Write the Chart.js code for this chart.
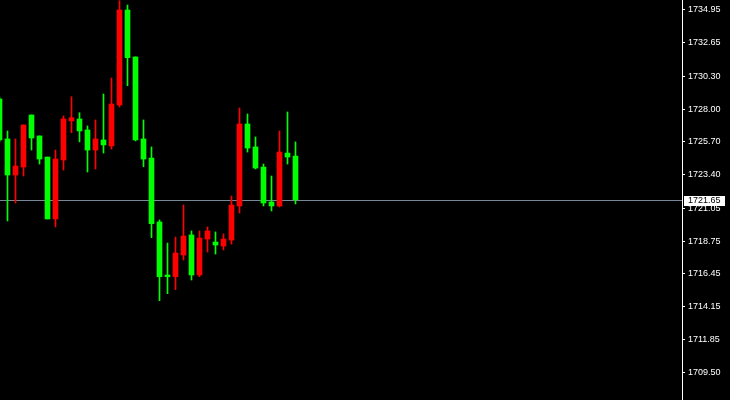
<!DOCTYPE html>
<html>
<head>
<meta charset="utf-8">
<script src="https://cdn.jsdelivr.net/npm/chart.js@4.4.1/dist/chart.umd.min.js"></script>
<style>
  html, body { margin: 0; padding: 0; background: #000; }
  #wrap { width: 730px; height: 400px; }
</style>
</head>
<body>
<div id="wrap"><canvas id="myChart" width="730" height="400"></canvas></div>
<script>
// candles, oldest first (the first one is cut by the left edge)
const opens  = [1728.71, 1725.91, 1723.38, 1723.94, 1727.59, 1726.12, 1724.64, 1720.30, 1724.43, 1727.17,
                1727.31, 1726.54, 1725.13, 1725.84, 1725.42, 1728.29, 1734.95, 1731.66, 1725.91, 1724.57,
                1720.09, 1716.37, 1716.25, 1717.77, 1719.18, 1716.37, 1718.89, 1718.68, 1718.40, 1718.82,
                1721.21, 1726.96, 1725.35, 1723.94, 1721.49, 1721.21, 1724.92, 1724.71];
const highs  = [1728.85, 1726.47, 1725.91, 1726.89, 1727.59, 1726.12, 1724.64, 1725.13, 1727.52, 1728.87,
                1727.75, 1726.82, 1727.24, 1729.06, 1730.18, 1735.60, 1735.30, 1731.66, 1727.24, 1725.35,
                1720.23, 1718.61, 1719.03, 1721.28, 1719.46, 1719.46, 1719.74, 1719.39, 1719.25, 1721.91,
                1728.08, 1727.66, 1726.05, 1724.15, 1723.31, 1726.47, 1727.80, 1725.70];
const lows   = [1725.70, 1720.16, 1721.42, 1723.31, 1725.13, 1724.15, 1720.30, 1719.74, 1723.73, 1726.35,
                1725.70, 1723.59, 1723.80, 1724.92, 1725.20, 1728.15, 1729.64, 1725.77, 1723.96, 1718.99,
                1714.57, 1715.06, 1715.34, 1717.42, 1716.02, 1716.25, 1717.98, 1717.84, 1718.12, 1718.54,
                1720.72, 1724.99, 1723.80, 1721.21, 1720.86, 1721.14, 1724.15, 1721.35];
const closes = [1725.84, 1723.38, 1724.01, 1726.89, 1725.98, 1724.50, 1720.30, 1724.50, 1727.31, 1727.40,
                1726.47, 1725.13, 1725.91, 1725.49, 1728.36, 1734.95, 1731.61, 1725.84, 1724.50, 1719.97,
                1716.25, 1716.25, 1717.91, 1719.10, 1716.37, 1718.96, 1719.46, 1718.47, 1718.89, 1721.28,
                1726.96, 1725.27, 1723.87, 1721.42, 1721.21, 1724.99, 1724.64, 1721.65];

const tickValues = [1734.95, 1732.65, 1730.30, 1728.00, 1725.70, 1723.40, 1721.05,
                    1718.75, 1716.45, 1714.15, 1711.85, 1709.50];
const lastPrice = 1721.65;

const upColor = '#ff0000';
const downColor = '#00ff00';

const colors = closes.map((c, i) => c > opens[i] ? upColor : downColor);
const bodies = closes.map((c, i) => ({ x: i - 1, y: [opens[i], c] }));
const wicks = closes.map((c, i) => ({ x: i - 1, y: [lows[i], highs[i]] }));

const priceMarker = {
  id: 'priceMarker',
  beforeDatasetsDraw(chart) {
    const { ctx, chartArea, scales } = chart;
    const y = Math.round(scales.y.getPixelForValue(lastPrice)) + 0.5;
    ctx.save();
    ctx.strokeStyle = 'rgb(119,136,153)';
    ctx.lineWidth = 1;
    ctx.beginPath();
    ctx.moveTo(chartArea.left, y);
    ctx.lineTo(chartArea.right, y);
    ctx.stroke();
    ctx.restore();
  },
  afterDraw(chart) {
    const { ctx, chartArea, scales } = chart;
    const y = Math.round(scales.y.getPixelForValue(lastPrice));
    ctx.save();
    ctx.fillStyle = '#ffffff';
    ctx.fillRect(chartArea.right + 2, y - 4, 41, 10);
    ctx.fillStyle = '#000000';
    ctx.font = '9px "Liberation Sans", Arial, sans-serif';
    ctx.textBaseline = 'middle';
    ctx.textAlign = 'left';
    ctx.fillText(lastPrice.toFixed(2), chartArea.right + 6, y + 1);
    ctx.restore();
  }
};

const ctx = document.getElementById('myChart').getContext('2d');
const myChart = new Chart(ctx, {
  type: 'bar',
  data: {
    datasets: [
      {
        label: 'wick',
        data: wicks,
        backgroundColor: colors,
        barThickness: 1,
        grouped: false,
        order: 2
      },
      {
        label: 'body',
        data: bodies,
        backgroundColor: colors,
        barThickness: 5,
        grouped: false,
        order: 1
      }
    ]
  },
  options: {
    responsive: false,
    animation: false,
    layout: { padding: 0 },
    plugins: {
      legend: { display: false },
      tooltip: { enabled: false }
    },
    scales: {
      x: {
        type: 'linear',
        display: false,
        offset: false,
        grid: { offset: false },
        min: -0.9375,
        max: 84.3125
      },
      y: {
        position: 'right',
        min: 1707.606,
        max: 1735.651,
        afterBuildTicks: (scale) => {
          scale.ticks = tickValues.map(v => ({ value: v }));
        },
        afterFit: (scale) => {
          scale.width = 48;
          scale.paddingTop = 0;
          scale.paddingBottom = 0;
        },
        border: { display: true, color: '#ffffff', width: 1 },
        grid: { drawOnChartArea: false, drawTicks: true, tickLength: 3, color: '#ffffff' },
        ticks: {
          autoSkip: false,
          padding: 3,
          color: '#ffffff',
          font: { family: '"Liberation Sans", Arial, sans-serif', size: 9 },
          callback: (v) => Number(v).toFixed(2)
        }
      }
    }
  },
  plugins: [priceMarker]
});
</script>
</body>
</html>
